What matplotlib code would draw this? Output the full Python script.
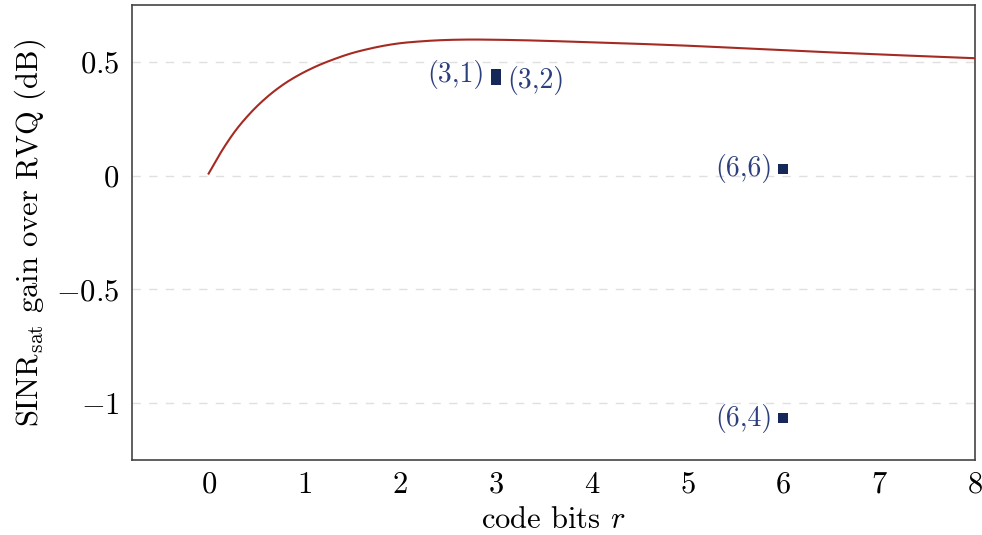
import matplotlib
matplotlib.use('Agg')
import matplotlib.pyplot as plt
import numpy as np

plt.rcParams['font.family'] = 'serif'
plt.rcParams['font.serif'] = ['cmr10', 'DejaVu Serif']
plt.rcParams['mathtext.fontset'] = 'cm'
plt.rcParams['axes.formatter.use_mathtext'] = True
plt.rcParams['axes.unicode_minus'] = True

# gain curve
r_curve = [0.0, 0.126, 0.265, 0.44, 0.614, 0.788, 0.962, 1.137, 1.31, 1.485, 1.66, 1.83,
           2.0, 2.18, 2.36, 2.7, 3.02, 4.0, 5.0, 6.05, 7.1, 8.0]
gain_curve = [0.009, 0.101, 0.189, 0.277, 0.347, 0.403, 0.447, 0.483, 0.512, 0.537, 0.556, 0.571,
              0.582, 0.589, 0.594, 0.598, 0.597, 0.586, 0.571, 0.55, 0.531, 0.516]

# single configurations
pt_r = [3, 3, 6, 6]
pt_gain = [0.445, 0.42, 0.03, -1.065]
pt_labels = ['(3,1)', '(3,2)', '(6,6)', '(6,4)']
pt_side = ['left', 'right', 'left', 'left']

xticks = [0, 1, 2, 3, 4, 5, 6, 7, 8]
yticks = [-1, -0.5, 0, 0.5]


def catmull(x, y, xs):
    # centripetal-free Catmull-Rom through the read points
    x = np.asarray(x, float)
    y = np.asarray(y, float)
    m = np.gradient(y, x)
    h = np.diff(x)
    i = np.clip(np.searchsorted(x, xs) - 1, 0, len(x) - 2)
    t = (xs - x[i]) / h[i]
    h00 = 2 * t**3 - 3 * t**2 + 1
    h10 = t**3 - 2 * t**2 + t
    h01 = -2 * t**3 + 3 * t**2
    h11 = t**3 - t**2
    return h00 * y[i] + h10 * h[i] * m[i] + h01 * y[i + 1] + h11 * h[i] * m[i + 1]


fig = plt.figure(figsize=(9.82, 5.35), dpi=100)
ax = fig.add_axes([0.1344, 0.14, 0.8585, 0.8507])

xs = np.linspace(0, 8, 800)
ax.plot(xs, catmull(r_curve, gain_curve, xs), color='#a52a22', lw=1.5, zorder=3)

ax.scatter(pt_r, pt_gain, marker='s', s=45, color='#16275a', zorder=4, linewidths=0)
for x, y, lab, side in zip(pt_r, pt_gain, pt_labels, pt_side):
    off = -8 if side == 'left' else 8
    ax.annotate(lab, (x, y), xytext=(off, 0), textcoords='offset points',
                ha='right' if side == 'left' else 'left', va='center',
                color='#2c3f7c', fontsize=20)

ax.set_xlim(-0.8, 8)
ax.set_ylim(-1.25, 0.75)
ax.set_xticks(xticks)
ax.set_yticks(yticks)
ax.set_yticklabels(['$-1$', '$-0.5$', '$0$', '$0.5$'])
ax.set_xticklabels(['$%d$' % t for t in xticks])
ax.tick_params(length=0, labelsize=22)
ax.tick_params(axis='y', pad=9)
ax.tick_params(axis='x', pad=8)
ax.yaxis.grid(True, ls=(0, (6, 6)), color='#e0e0e0', lw=1)
for s in ax.spines.values():
    s.set_color('#444444')
    s.set_linewidth(1.2)

ax.set_xlabel('code bits $r$', fontsize=22, labelpad=6)
ax.set_ylabel(r'SINR$_{\mathrm{sat}}$ gain over RVQ (dB)', fontsize=22, labelpad=6)

fig.savefig('out.png', dpi=100)
